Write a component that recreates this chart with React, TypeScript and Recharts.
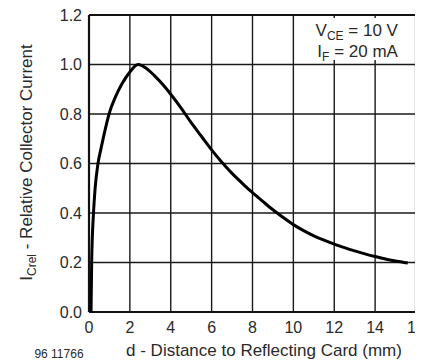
import { CartesianGrid, Line, LineChart, ReferenceArea, ReferenceLine, XAxis, YAxis } from 'recharts'

// distance to reflecting card (mm) and relative collector current
const distance = [0.1, 0.13, 0.22, 0.3, 0.44, 0.6, 0.8, 1.0, 1.3, 1.6, 2.0, 2.4, 2.8, 3.2, 3.6, 4.0, 4.5, 5.0, 5.5, 6.0, 6.5, 7.0, 7.5, 8.0, 8.5, 9.0, 9.5, 10.0, 10.5, 11.0, 11.5, 12.0, 12.5, 13.0, 13.5, 14.0, 14.5, 15.0, 15.6]
const relCurrent = [0.0, 0.2, 0.4, 0.5, 0.6, 0.665, 0.74, 0.805, 0.87, 0.92, 0.97, 1.0, 0.985, 0.955, 0.92, 0.88, 0.825, 0.765, 0.71, 0.655, 0.605, 0.56, 0.52, 0.482, 0.447, 0.413, 0.382, 0.353, 0.329, 0.308, 0.29, 0.274, 0.26, 0.247, 0.235, 0.224, 0.214, 0.206, 0.198]

const xTicks = [0, 2, 4, 6, 8, 10, 12, 14, 16]
const yTicks = [0, 0.2, 0.4, 0.6, 0.8, 1.0, 1.2]

const data = distance.map((d, i) => ({ d, i: relCurrent[i] }))

const font = '"Liberation Sans", Arial, sans-serif'
const ink = '#2a2a2a'

// test conditions, drawn as the label of the white box so it sits on top of it
function Conditions(props: any) {
  const vb = props.viewBox || { x: 0, y: 0, width: 0, height: 0 }
  const right = vb.x + vb.width - 16
  return (
    <g fill={ink} fontFamily={font} fontSize={17} textAnchor="end">
      <text x={right} y={vb.y + 18}>
        V<tspan fontSize={12} dy={4}>CE</tspan>
        <tspan dy={-4}> = 10 V</tspan>
      </text>
      <text x={right} y={vb.y + 39}>
        I<tspan fontSize={12} dy={4}>F</tspan>
        <tspan dy={-4}> = 20 mA</tspan>
      </text>
    </g>
  )
}

// chart sits at the body's 8px margin, so everything below is in chart coords
export default function App() {
  return (
    <LineChart width={415} height={353} data={data} margin={{ top: 7, right: 7, bottom: 0, left: 0 }}>
      <CartesianGrid stroke="#1a1a1a" strokeWidth={1.4} />
      <XAxis
        dataKey="d"
        type="number"
        domain={[0, 16]}
        ticks={xTicks}
        axisLine={false}
        tickLine={false}
        tickMargin={4}
        height={49}
        interval={0}
        tick={{ fill: ink, fontSize: 16, fontFamily: font }}
      />
      <YAxis
        type="number"
        domain={[0, 1.2]}
        ticks={yTicks}
        axisLine={false}
        tickLine={false}
        tickMargin={1}
        width={81}
        interval={0}
        tickFormatter={(v: number) => v.toFixed(1)}
        tick={{ fill: ink, fontSize: 16, fontFamily: font }}
      />
      <ReferenceArea
        x1={10.4}
        x2={15.9}
        y1={1.018}
        y2={1.188}
        fill="#fff"
        fillOpacity={1}
        stroke="none"
        label={(p: any) => <Conditions {...p} />}
      />
      <ReferenceLine x={0} stroke="#111" strokeWidth={2.2} />
      <ReferenceLine x={16} stroke="#111" strokeWidth={2.2} />
      <ReferenceLine y={0} stroke="#111" strokeWidth={2.2} />
      <ReferenceLine y={1.2} stroke="#111" strokeWidth={2.2} />
      <Line dataKey="i" type="monotone" stroke="#000" strokeWidth={3} dot={false} isAnimationActive={false} />
      <text x={256} y={347.5} fill={ink} fontFamily={font} fontSize={17} textAnchor="middle">
        d - Distance to Reflecting Card (mm)
      </text>
      <text x={51} y={350} fill={ink} fontFamily={font} fontSize={12} textAnchor="middle">
        96 11766
      </text>
      <text transform="translate(24 154.5) rotate(-90)" fill={ink} fontFamily={font} fontSize={17} textAnchor="middle">
        I<tspan fontSize={12} dy={4}>Crel</tspan>
        <tspan dy={-4}> - Relative Collector Current</tspan>
      </text>
    </LineChart>
  )
}
